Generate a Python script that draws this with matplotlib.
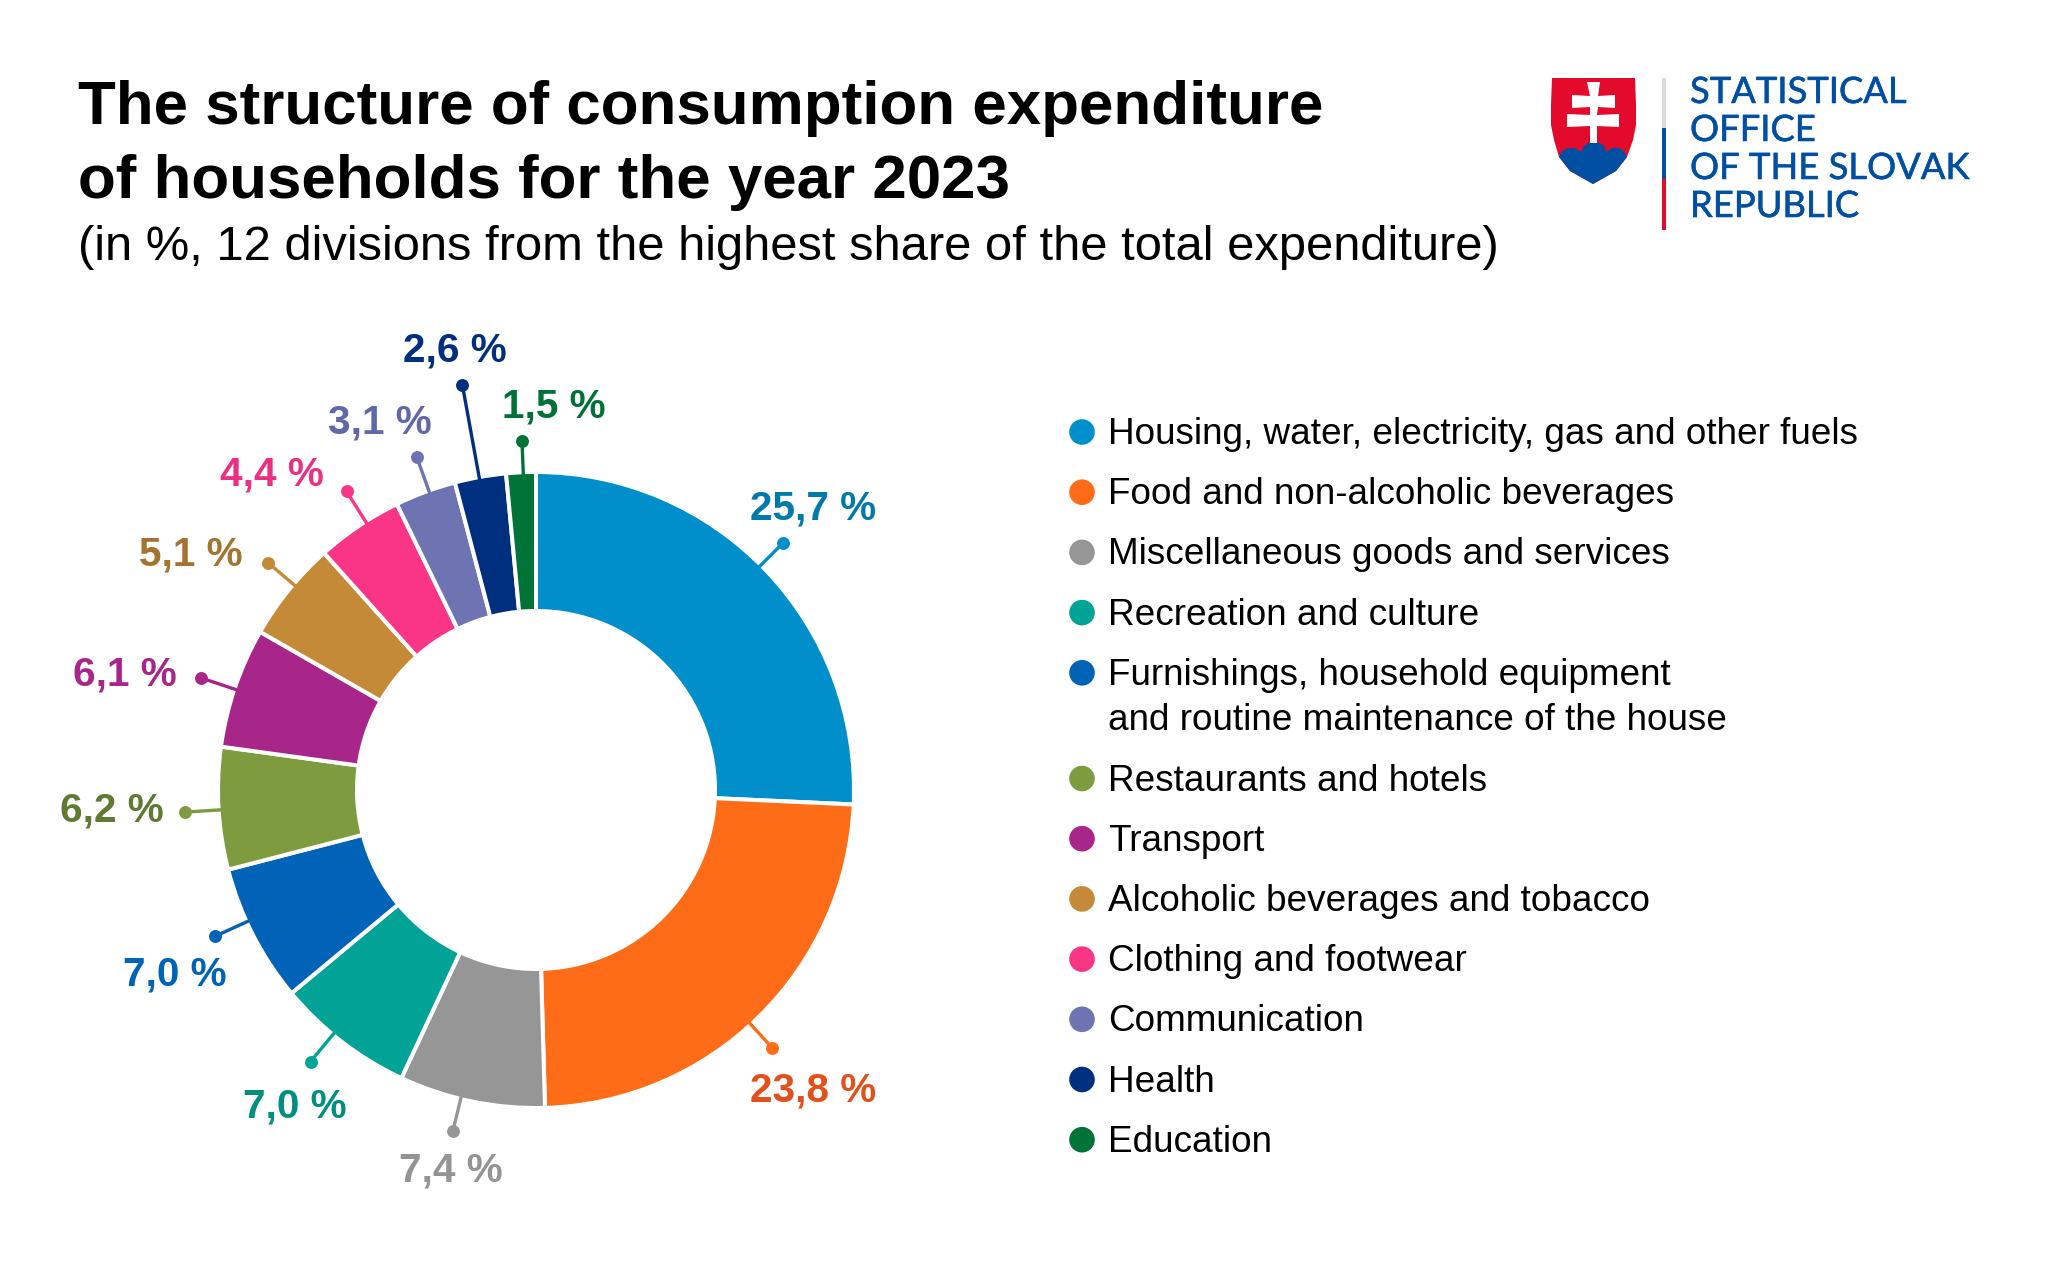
import numpy as np
import matplotlib
matplotlib.use("Agg")
import matplotlib.pyplot as plt
import matplotlib.patheffects as pe
from matplotlib.patches import Polygon, Rectangle, Circle

plt.rcParams['font.family'] = ['Liberation Sans', 'DejaVu Sans']

# data
categories = [
    "Housing, water, electricity, gas and other fuels",
    "Food and non-alcoholic beverages",
    "Miscellaneous goods and services",
    "Recreation and culture",
    "Furnishings, household equipment\nand routine maintenance of the house",
    "Restaurants and hotels",
    "Transport",
    "Alcoholic beverages and tobacco",
    "Clothing and footwear",
    "Communication",
    "Health",
    "Education",
]
shares = [25.7, 23.8, 7.4, 7.0, 7.0, 6.2, 6.1, 5.1, 4.4, 3.1, 2.6, 1.5]
value_labels = ["25,7 %", "23,8 %", "7,4 %", "7,0 %", "7,0 %", "6,2 %",
                "6,1 %", "5,1 %", "4,4 %", "3,1 %", "2,6 %", "1,5 %"]
wedge_colors = ["#008fcb", "#ff6c17", "#969696", "#00a396", "#0063b8", "#7f9b40",
                "#a8258a", "#c48a38", "#fb3585", "#6e74b2", "#002f80", "#007339"]
label_colors = ["#0079ab", "#e2501c", "#949494", "#008f7f", "#0063b5", "#5f7a32",
                "#a8258a", "#a47330", "#eb2f82", "#6068a8", "#002f7f", "#007238"]

# layout, all in pixels of the 2048x1272 canvas
W, H = 2048, 1272
CX, CY, R, R_IN = 536, 790, 318, 179
# leader end: radius in pie units, angle clockwise from the top
leader_r = [1.10, 1.10, 1.105, 1.11, 1.11, 1.105, 1.112, 1.105, 1.112, 1.112, 1.294, 1.097]
leader_deg = [45, 137.5, 193.7, 219.7, 245.5, 266.4, 288.5, 310.3, 327.6, 340.3, 349.7, 357.7]
label_xy = [(813, 509), (813, 1090), (451, 1170), (295, 1106), (175, 975), (112, 811),
            (125, 674), (191, 555), (272, 474), (380, 423), (455, 350), (554, 407)]
BLUE = "#004fa3"
RED = "#e30a2c"

fig = plt.figure(figsize=(W / 100, H / 100), dpi=100, facecolor='white')

# donut
half = 440
ax = fig.add_axes([(CX - half) / W, 1 - (CY + half) / H, 2 * half / W, 2 * half / H])
wedges, _ = ax.pie(shares, colors=wedge_colors, startangle=90, counterclock=False, radius=1,
                   wedgeprops=dict(width=1 - R_IN / R, edgecolor='white', linewidth=2.9))
ax.set_xlim(-half / R, half / R)
ax.set_ylim(-half / R, half / R)
ax.set_aspect('equal')
ax.axis('off')

# leaders run radially from the rim to the dot
for lr, deg, c in zip(leader_r, leader_deg, wedge_colors):
    a = np.deg2rad(90 - deg)
    ax.plot([0.985 * np.cos(a), lr * np.cos(a)], [0.985 * np.sin(a), lr * np.sin(a)], color=c, lw=2.4,
            solid_capstyle='butt', zorder=3)
    ax.plot(lr * np.cos(a), lr * np.sin(a), 'o', color=c, ms=9.3, mew=0, zorder=3)

# overlay in pixel coordinates for text, legend and logo
ov = fig.add_axes([0, 0, 1, 1])
ov.set_xlim(0, W)
ov.set_ylim(H, 0)
ov.axis('off')
ov.patch.set_alpha(0)

ov.text(78, 124, "The structure of consumption expenditure", fontsize=44.6, fontweight='bold',
        color='black', va='baseline')
ov.text(78, 198, "of households for the year 2023", fontsize=44.6, fontweight='bold',
        color='black', va='baseline')
ov.text(78, 260, "(in %, 12 divisions from the highest share of the total expenditure)",
        fontsize=35.2, color='black', va='baseline')

for txt, (x, y), c in zip(value_labels, label_xy, label_colors):
    ov.text(x, y, txt, fontsize=29.2, fontweight='bold', color=c, ha='center', va='center')

# legend
y = 432
for name, c in zip(categories, wedge_colors):
    ov.add_patch(Circle((1082, y), 12.8, color=c, lw=0))
    lines = name.split("\n")
    for i, line in enumerate(lines):
        ov.text(1108, y + 45.5 * i + 2.5, line, fontsize=26.6, color='black', va='center')
    y += 60.2 + 45.5 * (len(lines) - 1)

# logo: shield
shield = [(1552, 78), (1635, 78), (1636, 105), (1636, 125), (1633, 140), (1627, 157), (1616, 171),
          (1593, 184), (1570, 171), (1559, 157), (1554, 140), (1551, 125), (1551, 105)]
ov.add_patch(Polygon(shield, closed=True, color=RED, lw=0))
hills = [(1559, 157), (1562, 151), (1568, 148), (1575, 148), (1581, 152), (1584, 146), (1589, 142.5),
         (1594, 142), (1599, 142.5), (1604, 146), (1606, 152), (1612, 148), (1619, 148),
         (1624, 151), (1627, 157), (1616, 171), (1593, 184), (1570, 171)]
ov.add_patch(Polygon(hills, closed=True, color=BLUE, lw=0))
cross = [(1587, 82), (1600, 82), (1598, 96), (1615, 95), (1615, 108), (1598, 107),
         (1597, 115), (1619, 114), (1619, 127), (1597, 126), (1597, 143), (1590, 143),
         (1590, 126), (1567, 127), (1567, 114), (1590, 115), (1590, 107), (1572, 108),
         (1572, 95), (1590, 96)]
ov.add_patch(Polygon(cross, closed=True, color='white', lw=0))

# logo: tricolour bar
ov.add_patch(Rectangle((1661.5, 78), 4, 50, color="#d9dbdc", lw=0))
ov.add_patch(Rectangle((1661.5, 128), 4, 51, color=BLUE, lw=0))
ov.add_patch(Rectangle((1661.5, 179), 4, 51, color=RED, lw=0))

# logo: wordmark
for txt, base in zip(["STATISTICAL", "OFFICE", "OF THE SLOVAK", "REPUBLIC"], [103, 141, 179, 217]):
    ov.text(1690, base, txt, fontsize=26.2, family='Lato', color=BLUE, va='baseline',
            path_effects=[pe.withStroke(linewidth=0.4, foreground=BLUE)])

fig.savefig("out.png", dpi=100, facecolor='white')
